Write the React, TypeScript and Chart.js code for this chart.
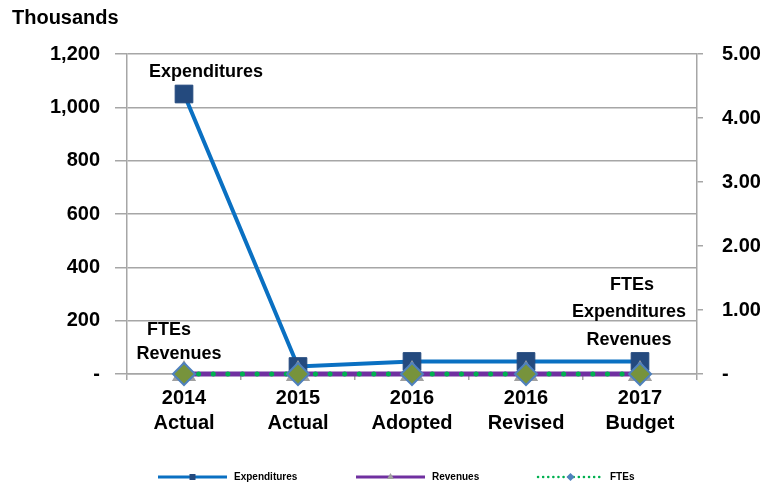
import React, { useEffect, useRef } from "react";
import { Chart, registerables } from "chart.js";

Chart.register(...registerables);

const categories: string[][] = [
  ["2014", "Actual"],
  ["2015", "Actual"],
  ["2016", "Adopted"],
  ["2016", "Revised"],
  ["2017", "Budget"],
];
const expenditures: number[] = [1050, 28, 47, 47, 47];
const revenues: number[] = [0, 0, 0, 0, 0];
const ftes: number[] = [0, 0, 0, 0, 0];
const leftTicks: number[] = [0, 200, 400, 600, 800, 1000, 1200];
const rightTicks: number[] = [0, 1, 2, 3, 4, 5];
const seriesNames: string[] = ["Expenditures", "Revenues", "FTEs"];

const FONT = "'Liberation Sans', Arial, sans-serif";
const EXP_LINE = "#0A70C2";
const EXP_MARK = "#244A7E";
const REV_LINE = "#7030A0";
const REV_MARK = "#A0A0A0";
const FTE_LINE = "#00B050";
const FTE_MARK = "#77933C";
const FTE_BORDER = "#4F81BD";
const GRID = "#A6A6A6";

// data label specs: [datasetIndex, pointIndex, text, dx, dy]
const dataLabels: [number, number, string, number, number][] = [
  [0, 0, "Expenditures", 22, -22],
  [2, 0, "FTEs", -15, -44],
  [1, 0, "Revenues", -5, -20],
  [2, 4, "FTEs", -8, -89],
  [0, 4, "Expenditures", -11, -49],
  [1, 4, "Revenues", -11, -34],
];

const overlayPlugin = {
  id: "overlay",
  afterDatasetsDraw(chart: any) {
    const ctx = chart.ctx;
    ctx.save();
    ctx.fillStyle = "#000";
    ctx.font = `bold 18px ${FONT}`;
    ctx.textAlign = "center";
    ctx.textBaseline = "middle";
    for (const [di, pi, text, dx, dy] of dataLabels) {
      const el = chart.getDatasetMeta(di).data[pi];
      if (!el) continue;
      ctx.fillText(text, el.x + dx, el.y + dy);
    }
    ctx.restore();
  },
  afterDraw(chart: any) {
    const ctx = chart.ctx;
    ctx.save();
    ctx.fillStyle = "#000";
    ctx.font = `bold 20px ${FONT}`;
    ctx.textAlign = "left";
    ctx.textBaseline = "middle";
    ctx.fillText("Thousands", 12, 18);

    const y = 477;
    const items = [
      { x0: 158, x1: 227, name: seriesNames[0] },
      { x0: 356, x1: 425, name: seriesNames[1] },
      { x0: 538, x1: 603, name: seriesNames[2] },
    ];
    items.forEach((it, i) => {
      ctx.save();
      if (i === 0) {
        ctx.strokeStyle = EXP_LINE;
        ctx.lineWidth = 3;
      } else if (i === 1) {
        ctx.strokeStyle = REV_LINE;
        ctx.lineWidth = 3;
      } else {
        ctx.strokeStyle = FTE_LINE;
        ctx.lineWidth = 2.5;
        ctx.lineCap = "round";
        ctx.setLineDash([0.1, 5]);
      }
      ctx.beginPath();
      ctx.moveTo(it.x0, y);
      ctx.lineTo(it.x1, y);
      ctx.stroke();
      ctx.restore();
      const cx = (it.x0 + it.x1) / 2;
      ctx.save();
      if (i === 0) {
        ctx.fillStyle = EXP_MARK;
        ctx.fillRect(cx - 3, y - 3, 6, 6);
      } else if (i === 1) {
        ctx.fillStyle = REV_MARK;
        ctx.beginPath();
        ctx.moveTo(cx, y - 4);
        ctx.lineTo(cx + 3.5, y + 2);
        ctx.lineTo(cx - 3.5, y + 2);
        ctx.closePath();
        ctx.fill();
      } else {
        ctx.fillStyle = FTE_BORDER;
        ctx.beginPath();
        ctx.moveTo(cx, y - 4);
        ctx.lineTo(cx + 4, y);
        ctx.lineTo(cx, y + 4);
        ctx.lineTo(cx - 4, y);
        ctx.closePath();
        ctx.fill();
      }
      ctx.restore();
      ctx.fillStyle = "#000";
      ctx.font = `bold 10px ${FONT}`;
      ctx.textAlign = "left";
      ctx.textBaseline = "middle";
      ctx.fillText(it.name, it.x1 + 7, y);
    });
    ctx.restore();
  },
};

export default function App() {
  const ref = useRef<HTMLCanvasElement | null>(null);
  useEffect(() => {
    if (!ref.current) return;
    const chart = new Chart(ref.current, {
      type: "line",
      data: {
        labels: categories,
        datasets: [
          {
            label: seriesNames[0],
            data: expenditures,
            yAxisID: "y",
            borderColor: EXP_LINE,
            borderWidth: 4,
            pointStyle: "rect",
            pointRadius: 12.5,
            pointBackgroundColor: EXP_MARK,
            pointBorderColor: EXP_MARK,
            pointBorderWidth: 1,
            tension: 0,
            fill: false,
            clip: false,
            order: 3,
          },
          {
            label: seriesNames[1],
            data: revenues,
            yAxisID: "y",
            borderColor: REV_LINE,
            borderWidth: 5,
            pointStyle: "triangle",
            pointRadius: 9,
            pointBackgroundColor: REV_MARK,
            pointBorderColor: REV_MARK,
            tension: 0,
            fill: false,
            clip: false,
            order: 2,
          },
          {
            label: seriesNames[2],
            data: ftes,
            yAxisID: "y2",
            borderColor: FTE_LINE,
            borderWidth: 5,
            borderDash: [0.1, 14.5],
            borderCapStyle: "round",
            pointStyle: "rectRot",
            pointRadius: 11,
            pointBackgroundColor: FTE_MARK,
            pointBorderColor: FTE_BORDER,
            pointBorderWidth: 2,
            tension: 0,
            fill: false,
            clip: false,
            order: 1,
          },
        ],
      },
      options: {
        responsive: false,
        animation: false,
        events: [],
        layout: { padding: { top: 54, bottom: 40, left: 0, right: 0 } },
        plugins: {
          legend: { display: false },
          tooltip: { enabled: false },
        },
        scales: {
          x: {
            offset: true,
            grid: {
              offset: true,
              drawOnChartArea: false,
              color: GRID,
              lineWidth: 1.5,
              tickLength: 6,
            },
            border: { display: true, color: GRID, width: 1.5 },
            ticks: {
              color: "#000",
              font: { family: FONT, size: 20, weight: "bold", lineHeight: 1.25 },
              padding: 6,
              maxRotation: 0,
              autoSkip: false,
            },
            afterFit(scale: any) {
              scale.height = 71;
            },
          },
          y: {
            position: "left",
            min: 0,
            max: 1200,
            afterBuildTicks(scale: any) {
              scale.ticks = leftTicks.map((v) => ({ value: v }));
            },
            grid: { color: GRID, lineWidth: 1.5, tickLength: 12 },
            border: { display: true, color: GRID, width: 1.5 },
            ticks: {
              color: "#000",
              padding: 15,
              font: { family: FONT, size: 20, weight: "bold" },
              callback: (v: any) => (Number(v) === 0 ? "-" : Number(v).toLocaleString("en-US")),
            },
            afterFit(scale: any) {
              scale.width = 127;
            },
          },
          y2: {
            position: "right",
            min: 0,
            max: 5,
            afterBuildTicks(scale: any) {
              scale.ticks = rightTicks.map((v) => ({ value: v }));
            },
            grid: { drawOnChartArea: false, color: GRID, lineWidth: 1.5, tickLength: 6 },
            border: { display: true, color: GRID, width: 1.5 },
            ticks: {
              color: "#000",
              padding: 19,
              font: { family: FONT, size: 20, weight: "bold" },
              callback: (v: any) => (Number(v) === 0 ? "-" : Number(v).toFixed(2)),
            },
            afterFit(scale: any) {
              scale.width = 83;
            },
          },
        },
      },
      plugins: [overlayPlugin],
    } as any);
    return () => chart.destroy();
  }, []);
  return (
    <div style={{ position: "absolute", left: 0, top: 0, width: 780, height: 485, background: "#fff" }}>
      <canvas ref={ref} width={780} height={485} />
    </div>
  );
}
